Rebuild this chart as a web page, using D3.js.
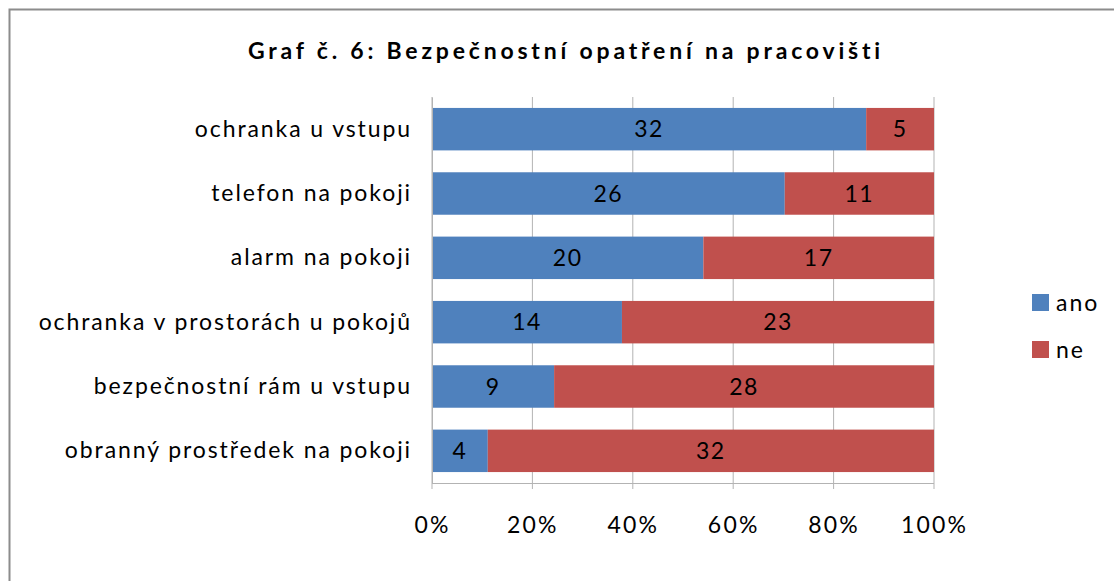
<!DOCTYPE html>
<html>
<head>
<meta charset="utf-8">
<script src="https://cdn.jsdelivr.net/npm/d3@7"></script>
<style>
  body { margin: 0; background: #fff; }
  svg { font-family: Lato, "Open Sans", sans-serif; }
</style>
</head>
<body>
<svg id="chart" width="1114" height="581"></svg>
<script>
const categories = [
  'ochranka u vstupu',
  'telefon na pokoji',
  'alarm na pokoji',
  'ochranka v prostorách u pokojů',
  'bezpečnostní rám u vstupu',
  'obranný prostředek na pokoji'
];
const ano = [32, 26, 20, 14, 9, 4];
const ne = [5, 11, 17, 23, 28, 32];
const seriesNames = ['ano', 'ne'];
const colors = ['#4F81BD', '#C0504D'];
const tickValues = [0, 0.2, 0.4, 0.6, 0.8, 1];

const svg = d3.select('#chart');

// outer frame
svg.append('rect')
  .attr('x', 9.5).attr('y', 9.5)
  .attr('width', 1120).attr('height', 590)
  .attr('fill', 'none')
  .attr('stroke', '#8c8c8c')
  .attr('stroke-width', 2);

svg.append('text')
  .attr('x', 566).attr('y', 59)
  .attr('text-anchor', 'middle')
  .attr('font-size', 23)
  .attr('font-weight', 'bold')
  .attr('letter-spacing', 3.8)
  .text('Graf č. 6: Bezpečnostní opatření na pracovišti');

const x = d3.scaleLinear().domain([0, 1]).range([432, 934]);
const y = d3.scaleBand().domain(categories).range([97, 483]).paddingInner(0.34).paddingOuter(0.17);

const rows = categories.map((c, i) => ({ cat: c, ano: ano[i], ne: ne[i], total: ano[i] + ne[i] }));
const stack = d3.stack().keys(seriesNames)
  .value((d, k) => d[k] / d.total);
const layers = stack(rows);

// grid
svg.append('g')
  .selectAll('line')
  .data(tickValues)
  .join('line')
  .attr('x1', d => x(d)).attr('x2', d => x(d))
  .attr('y1', 97).attr('y2', 489)
  .attr('stroke', '#b3b3b3')
  .attr('stroke-width', 1);

svg.append('line')
  .attr('x1', x(0)).attr('x2', x(1))
  .attr('y1', 483.5).attr('y2', 483.5)
  .attr('stroke', '#b3b3b3');

const g = svg.append('g')
  .selectAll('g')
  .data(layers)
  .join('g')
  .attr('fill', (d, i) => colors[i]);

g.selectAll('rect')
  .data(d => d)
  .join('rect')
  .attr('x', d => x(d[0]))
  .attr('width', d => x(d[1]) - x(d[0]))
  .attr('y', d => y(d.data.cat))
  .attr('height', y.bandwidth());

g.selectAll('text')
  .data((d, i) => d.map(p => ({ p, key: seriesNames[i] })))
  .join('text')
  .attr('x', d => (x(d.p[0]) + x(d.p[1])) / 2)
  .attr('y', d => y(d.p.data.cat) + y.bandwidth() / 2)
  .attr('dy', '0.36em')
  .attr('text-anchor', 'middle')
  .attr('fill', '#000')
  .attr('font-size', 23)
  .attr('letter-spacing', 1.5)
  .text(d => d.p.data[d.key]);

// category axis
const yAxis = d3.axisLeft(y).tickSize(0).tickPadding(20);
svg.append('g')
  .attr('transform', `translate(${x(0)},0)`)
  .call(yAxis)
  .call(s => s.select('.domain').attr('stroke', '#b3b3b3'))
  .call(s => s.selectAll('text')
    .attr('font-size', 23)
    .attr('font-family', 'Lato, sans-serif')
    .attr('letter-spacing', 1.9)
    .attr('fill', '#000'));

// value axis
const xAxis = d3.axisBottom(x).tickValues(tickValues).tickFormat(d3.format('.0%')).tickSize(0).tickPadding(34);
svg.append('g')
  .attr('transform', 'translate(0,483)')
  .call(xAxis)
  .call(s => s.select('.domain').remove())
  .call(s => s.selectAll('text')
    .attr('font-size', 23)
    .attr('font-family', 'Lato, sans-serif')
    .attr('letter-spacing', 2.2)
    .attr('fill', '#000'));

// legend
const legend = svg.append('g')
  .selectAll('g')
  .data(seriesNames)
  .join('g')
  .attr('transform', (d, i) => `translate(1032,${294 + i * 47})`);
legend.append('rect')
  .attr('width', 17).attr('height', 17)
  .attr('fill', (d, i) => colors[i]);
legend.append('text')
  .attr('x', 24).attr('y', 9)
  .attr('dy', '0.36em')
  .attr('font-size', 23)
  .attr('letter-spacing', 2)
  .text(d => d);
</script>
</body>
</html>
